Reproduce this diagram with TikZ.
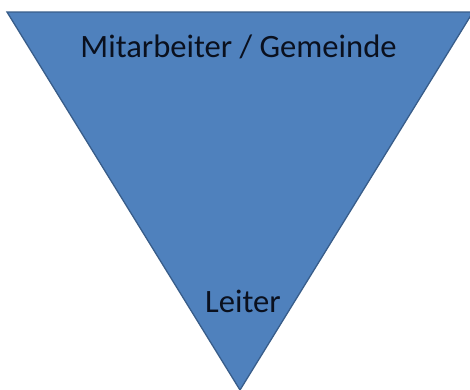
\documentclass[tikz,border=0pt]{standalone}
\usepackage{fontspec}
\setmainfont{Carlito}
\definecolor{triFill}{RGB}{79,129,189}
\definecolor{triLine}{RGB}{56,93,138}
\definecolor{txtCol}{RGB}{10,16,30}
\begin{document}
\begin{tikzpicture}[x=1pt,y=-1pt,
  lbl/.style={anchor=base,inner sep=0pt,text=txtCol,font=\fontsize{32.6}{38}\selectfont}]
\useasboundingbox (0,0) rectangle (470,389);
\clip (0,0) rectangle (470,389);
\coordinate (tl) at (7,12);
\coordinate (tr) at (473,12);
\coordinate (ap) at (240,390);
\filldraw[fill=triFill,draw=triLine,line width=1.3pt,line join=miter] (tl) -- (tr) -- (ap) -- cycle;
\node[lbl] (top) at (238.5,57) {Mitarbeiter / Gemeinde};
\node[lbl] (leiter) at (243,312) {Leiter};
\end{tikzpicture}
\end{document}
